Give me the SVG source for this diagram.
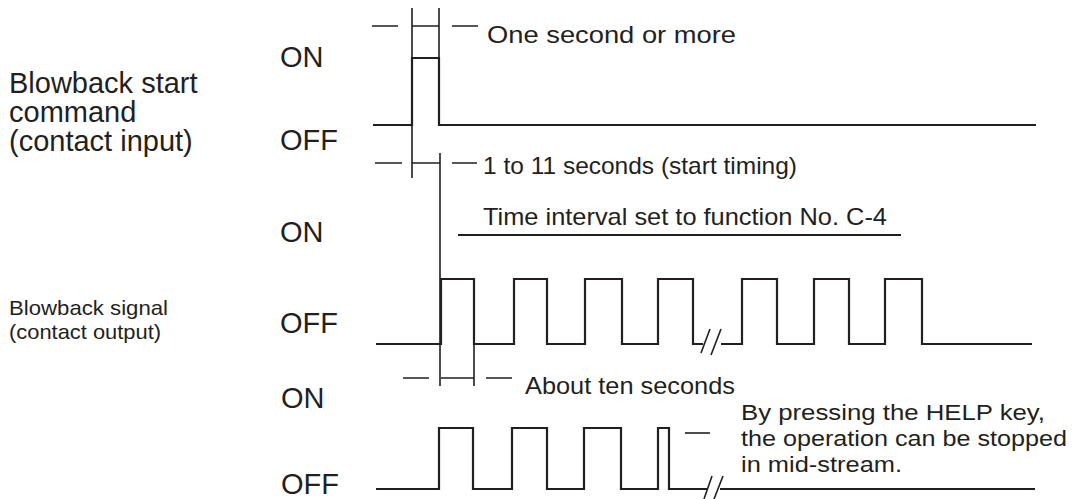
<svg xmlns="http://www.w3.org/2000/svg" width="1076" height="499" viewBox="0 0 1076 499">
<style>
.sig{fill:none;stroke:#231f20;stroke-width:2.2}
.dim{fill:none;stroke:#231f20;stroke-width:1.6}
.lbl{font-family:"Liberation Sans",Arial,sans-serif;fill:#231f20}
.big{font-size:29px}
.mid{font-size:24px}
.hlp{font-size:22px}
.sm{font-size:21px}
</style>
<rect width="1076" height="499" fill="#fff"/>
<g id="labels">
<text class="lbl big" x="9" y="93">Blowback start</text>
<text class="lbl big" x="9" y="122">command</text>
<text class="lbl big" x="9" y="151">(contact input)</text>
<text class="lbl sm" x="9" y="315" textLength="159" lengthAdjust="spacingAndGlyphs">Blowback signal</text>
<text class="lbl sm" x="9" y="339" textLength="152" lengthAdjust="spacingAndGlyphs">(contact output)</text>
<text class="lbl big" x="280" y="67">ON</text>
<text class="lbl big" x="280" y="150">OFF</text>
<text class="lbl big" x="280" y="242">ON</text>
<text class="lbl big" x="280" y="333">OFF</text>
<text class="lbl big" x="281" y="408">ON</text>
<text class="lbl big" x="281" y="494">OFF</text>
</g>
<g id="signal-start">
<path class="sig" d="M373,125 H412 V58 H439 V125 H1036"/>
</g>
<g id="signal-blowback">
<path class="sig" d="M376,344 H441 V279 H474 V344 H514 V279 H547 V344 H585 V279 H622 V344 H658 V279 H693 V344 H703 M721,344 H742 V279 H777 V344 H814 V279 H849 V344 H885 V279 H922 V344 H1032"/>
<path class="dim" d="M701,353 L710,329 M711,355 L721,329"/>
</g>
<g id="signal-help">
<path class="sig" d="M376,489 H439 V428 H473 V489 H512 V428 H547 V489 H584 V428 H621 V489 H658 V428 H669 V489 H708 M720,489 H1035"/>
<path class="dim" d="M704,499 L712,476 M714,499 L723,476"/>
</g>
<g id="connectors">
<path class="dim" d="M412,8 V178 M439,8 V125 M412,26 H439 M372,26 H398 M452,26 H478"/>
<path class="dim" d="M440,153 V386 M412,163 H440 M375,163 H402 M452,163 H477"/>
<path class="dim" d="M474,344 V386 M441,378 H474 M403,378 H429 M486,378 H512"/>
<path class="sig" d="M458,235 H901"/>
<path class="dim" d="M685,433 H710"/>
</g>
<g id="annotations">
<text class="lbl mid" x="487" y="43" textLength="249" lengthAdjust="spacingAndGlyphs">One second or more</text>
<text class="lbl mid" x="483" y="174" textLength="314" lengthAdjust="spacingAndGlyphs">1 to 11 seconds (start timing)</text>
<text class="lbl mid" x="483" y="225" textLength="404" lengthAdjust="spacingAndGlyphs">Time interval set to function No. C-4</text>
<text class="lbl mid" x="525" y="394" textLength="210" lengthAdjust="spacingAndGlyphs">About ten seconds</text>
<text class="lbl hlp" x="741" y="420" textLength="304" lengthAdjust="spacingAndGlyphs">By pressing the HELP key,</text>
<text class="lbl hlp" x="741" y="446" textLength="326" lengthAdjust="spacingAndGlyphs">the operation can be stopped</text>
<text class="lbl hlp" x="741" y="472" textLength="161" lengthAdjust="spacingAndGlyphs">in mid-stream.</text>
</g>
</svg>
